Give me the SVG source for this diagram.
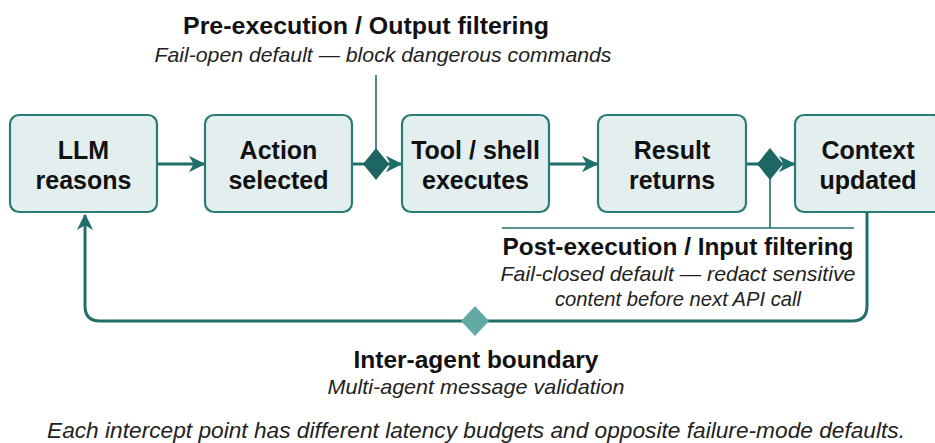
<svg xmlns="http://www.w3.org/2000/svg" width="935" height="443" viewBox="0 0 935 443">
  <style>
    .box { fill: #e3eeee; stroke: #2c7a75; stroke-width: 2.2; }
    .lbl { font-family: "Liberation Sans", Arial, sans-serif; font-weight: bold; font-size: 25px; fill: #111; text-anchor: middle; }
    .head { font-family: "Liberation Sans", Arial, sans-serif; font-weight: bold; font-size: 24px; fill: #111; text-anchor: middle; }
    .note { font-family: "Liberation Sans", Arial, sans-serif; font-style: italic; font-size: 21px; fill: #222; text-anchor: middle; }
    .caption { font-size: 22px; }
    .flow { fill: none; stroke: #1f6e69; stroke-width: 3; }
    .thin { fill: none; stroke: #1f6e69; stroke-width: 1.6; }
  </style>
  <defs>
    <marker id="arrow" viewBox="0 0 12 12" refX="11" refY="6" markerWidth="5.5" markerHeight="5.5" orient="auto" markerUnits="strokeWidth">
      <path d="M0,0 L12,6 L0,12 L3.5,6 z" fill="#1f6e69"/>
    </marker>
  </defs>
  <rect width="935" height="443" fill="#ffffff"/>

  <!-- connectors -->
  <g id="connectors">
    <line class="flow" x1="157" y1="164" x2="204" y2="164" marker-end="url(#arrow)"/>
    <line class="flow" x1="352" y1="164" x2="401" y2="164" marker-end="url(#arrow)"/>
    <line class="flow" x1="549" y1="164" x2="597" y2="164" marker-end="url(#arrow)"/>
    <line class="flow" x1="746" y1="164" x2="794" y2="164" marker-end="url(#arrow)"/>
    <!-- feedback loop back to the LLM -->
    <path class="flow" d="M867,212 V306 Q867,321 852,321 H100 Q85,321 85,306 V215" marker-end="url(#arrow)"/>
    <!-- callout leaders -->
    <line class="thin" x1="376" y1="75" x2="376" y2="160"/>
    <polyline class="thin" points="770,168 770,228"/>
    <line class="thin" x1="502" y1="228" x2="854" y2="228"/>
  </g>

  <!-- intercept points -->
  <g id="pre-execution">
    <polygon points="376,148 389,164 376,180 363,164" fill="#1d6663"/>
    <text class="head" x="366" y="34" textLength="366" lengthAdjust="spacingAndGlyphs">Pre-execution / Output filtering</text>
    <text class="note" x="383" y="62" textLength="457" lengthAdjust="spacingAndGlyphs">Fail-open default — block dangerous commands</text>
  </g>
  <g id="post-execution">
    <polygon points="770,148 783,164 770,180 757,164" fill="#1d6663"/>
    <text class="head" x="678" y="255" textLength="351" lengthAdjust="spacingAndGlyphs">Post-execution / Input filtering</text>
    <text class="note" x="678" y="281" textLength="355" lengthAdjust="spacingAndGlyphs">Fail-closed default — redact sensitive</text>
    <text class="note" x="678" y="306" textLength="246" lengthAdjust="spacingAndGlyphs">content before next API call</text>
  </g>
  <g id="inter-agent">
    <polygon points="475,306 489,321 475,336 461,321" fill="#62a9a4"/>
    <text class="head" x="476" y="368" textLength="245" lengthAdjust="spacingAndGlyphs">Inter-agent boundary</text>
    <text class="note" x="476" y="394" textLength="297" lengthAdjust="spacingAndGlyphs">Multi-agent message validation</text>
  </g>

  <!-- pipeline stages -->
  <g id="llm-reasons">
    <rect class="box" x="10" y="115" width="147" height="97" rx="9"/>
    <text class="lbl" x="83.5" y="159">LLM</text>
    <text class="lbl" x="83.5" y="189">reasons</text>
  </g>
  <g id="action-selected">
    <rect class="box" x="205" y="115" width="147" height="97" rx="9"/>
    <text class="lbl" x="278.5" y="159">Action</text>
    <text class="lbl" x="278.5" y="189">selected</text>
  </g>
  <g id="tool-executes">
    <rect class="box" x="402" y="115" width="147" height="97" rx="9"/>
    <text class="lbl" x="475.5" y="159">Tool / shell</text>
    <text class="lbl" x="475.5" y="189">executes</text>
  </g>
  <g id="result-returns">
    <rect class="box" x="598" y="115" width="148" height="97" rx="9"/>
    <text class="lbl" x="672" y="159">Result</text>
    <text class="lbl" x="672" y="189">returns</text>
  </g>
  <g id="context-updated">
    <rect class="box" x="795" y="115" width="147" height="97" rx="9"/>
    <text class="lbl" x="868" y="159">Context</text>
    <text class="lbl" x="868" y="189">updated</text>
  </g>

  <text class="note caption" x="476" y="438" textLength="858" lengthAdjust="spacingAndGlyphs">Each intercept point has different latency budgets and opposite failure-mode defaults.</text>
</svg>
